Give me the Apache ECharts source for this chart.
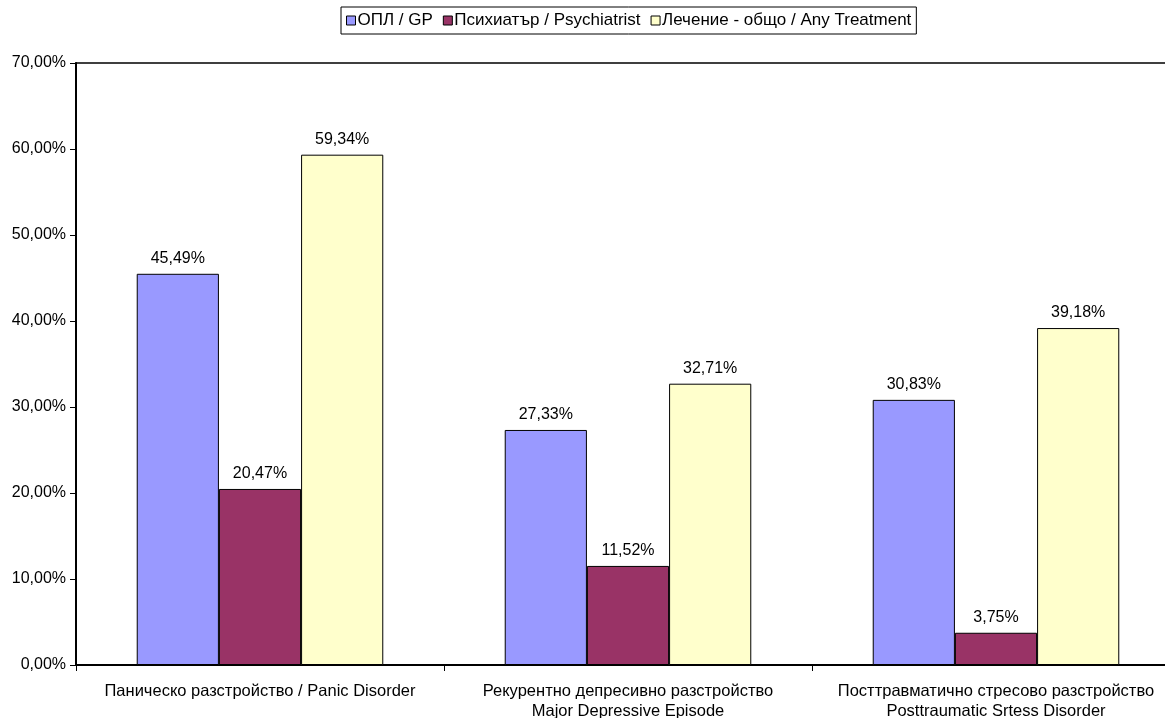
<!DOCTYPE html>
<html>
<head>
<meta charset="utf-8">
<script src="https://cdn.jsdelivr.net/npm/echarts@6.0.0/dist/echarts.min.js"></script>
<style>
  html, body { margin: 0; padding: 0; background: #fff; }
  #chart { width: 1165px; height: 718px; }
</style>
</head>
<body>
<div id="chart"></div>
<script>
// Treatment rates by disorder, percent
const categories = [
    'Паническо разстройство / Panic Disorder',
    'Рекурентно депресивно разстройство\nMajor Depressive Episode',
    'Посттравматично стресово разстройство\nPosttraumatic Srtess Disorder'
];
const seriesNames = ['ОПЛ / GP', 'Психиатър / Psychiatrist', 'Лечение - общо / Any Treatment'];
const gpValues = [45.49, 27.33, 30.83];
const psychiatristValues = [20.47, 11.52, 3.75];
const anyTreatmentValues = [59.34, 32.71, 39.18];
const colors = ['#9999FF', '#993366', '#FFFFCC'];

const FONT = '"Liberation Sans", Arial, sans-serif';
const pct = (v) => v.toFixed(2).replace('.', ',') + '%';

const makeSeries = (name, data, color) => ({
    name,
    type: 'bar',
    data,
    barGap: '0%',
    barCategoryGap: '33%',
    itemStyle: { color, borderColor: '#000', borderWidth: 1 },
    label: {
        show: true,
        position: 'top',
        distance: 7,
        color: '#000',
        fontFamily: FONT,
        fontSize: 16,
        formatter: (p) => pct(p.value)
    }
});

const chart = echarts.init(document.getElementById('chart'));
chart.setOption({
    animation: false,
    backgroundColor: '#fff',
    textStyle: { fontFamily: FONT },
    legend: {
        top: 7,
        left: 341,
        data: seriesNames,
        icon: 'rect',
        itemWidth: 9,
        itemHeight: 9,
        itemGap: 10,
        padding: [5, 5],
        borderColor: '#000',
        borderWidth: 1,
        itemStyle: { borderColor: '#000', borderWidth: 1 },
        textStyle: { color: '#000', fontSize: 17, fontFamily: FONT, padding: [0, 0, 0, -3] }
    },
    grid: {
        left: 76,
        top: 63,
        width: 1104,
        height: 602,
        outerBoundsMode: 'none',
        containLabel: false
    },
    xAxis: [{
        type: 'category',
        data: categories,
        axisLine: { lineStyle: { color: '#000', width: 2 } },
        axisTick: { show: true, length: 6, lineStyle: { color: '#000' } },
        axisLabel: {
            color: '#000',
            fontFamily: FONT,
            fontSize: 16.5,
            lineHeight: 20,
            margin: 16,
            interval: 0
        }
    }, {
        // plain frame line along the top of the plot
        type: 'category',
        position: 'top',
        data: categories,
        axisLine: { show: true, lineStyle: { color: '#000', width: 1.5 } },
        axisTick: { show: false },
        axisLabel: { show: false }
    }],
    yAxis: {
        type: 'value',
        min: 0,
        max: 70,
        interval: 10,
        splitLine: { show: false },
        axisLine: { show: true, lineStyle: { color: '#000', width: 2 } },
        axisTick: { show: true, length: 6, lineStyle: { color: '#000' } },
        axisLabel: {
            color: '#000',
            fontFamily: FONT,
            fontSize: 16,
            margin: 10,
            formatter: (v) => pct(v)
        }
    },
    series: [
        makeSeries(seriesNames[0], gpValues, colors[0]),
        makeSeries(seriesNames[1], psychiatristValues, colors[1]),
        makeSeries(seriesNames[2], anyTreatmentValues, colors[2])
    ]
});
</script>
</body>
</html>
